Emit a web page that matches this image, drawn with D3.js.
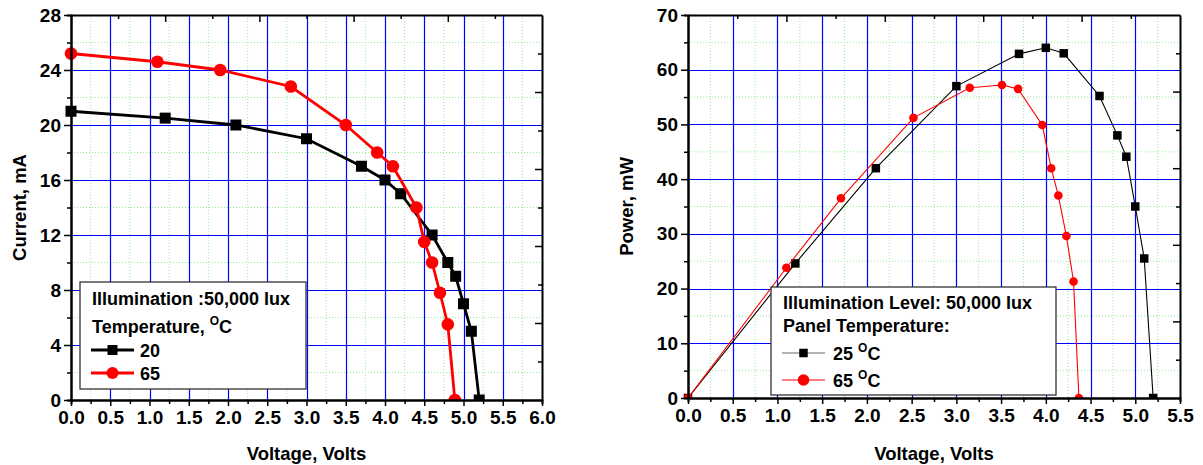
<!DOCTYPE html>
<html lang="en">
<head>
<meta charset="utf-8">
<title>Solar panel I-V and P-V</title>
<script src="https://cdn.jsdelivr.net/npm/d3@7"></script>
<style>
  body { margin: 0; background: #fff; }
  svg text { font-family: "Liberation Sans", Arial, sans-serif; font-weight: bold; fill: #000; }
  .axis path, .axis line { stroke: #000; }
  .axis path { stroke-width: 2; }
  .axis line { stroke-width: 1.5; }
  .axis text { font-size: 19px; }
  .major { stroke: #0000ff; stroke-width: 1.2; }
  .minor { stroke: #8ef08e; stroke-width: 1; stroke-dasharray: 1 2; }
</style>
</head>
<body>
<div id="chart"></div>
<script>
// current vs voltage (left)
var ivVolts20 = [0.0, 1.2, 2.1, 3.0, 3.7, 4.0, 4.2, 4.6, 4.8, 4.9, 5.0, 5.1, 5.2];
var ivAmps20  = [21, 20.5, 20, 19, 17, 16, 15, 12, 10, 9, 7, 5, 0];
var ivVolts65 = [0.0, 1.1, 1.9, 2.8, 3.5, 3.9, 4.1, 4.4, 4.5, 4.6, 4.7, 4.8, 4.89];
var ivAmps65  = [25.2, 24.6, 24, 22.8, 20, 18, 17, 14, 11.5, 10, 7.8, 5.5, 0];

// power vs voltage (right)
var pvVolts25 = [0.0, 1.2, 2.1, 3.0, 3.7, 4.0, 4.2, 4.6, 4.8, 4.9, 5.0, 5.1, 5.2];
var pvWatts25 = [0, 24.6, 42, 57, 62.9, 64, 63, 55.2, 48, 44.1, 35, 25.5, 0];
var pvVolts65 = [0.0, 1.1, 1.71, 2.52, 3.15, 3.51, 3.69, 3.96, 4.06, 4.14, 4.23, 4.31, 4.37];
var pvWatts65 = [0, 23.8, 36.5, 51.2, 56.7, 57.2, 56.5, 49.9, 42, 37, 29.6, 21.3, 0];

var xTicksLeft = d3.range(0, 6.01, 0.5);
var xTicksRight = d3.range(0, 5.51, 0.5);
var yTicksLeft = [0, 4, 8, 12, 16, 20, 24, 28];
var yTicksRight = [0, 10, 20, 30, 40, 50, 60, 70];

var svg = d3.select('#chart').append('svg')
  .attr('width', 1203).attr('height', 465)
  .style('background', '#fff');

function zip(xs, ys) { return xs.map(function (x, i) { return [x, ys[i]]; }); }

function panel(o) {
  var w = o.right - o.left, h = o.bottom - o.top;
  var x = d3.scaleLinear().domain(o.xDomain).range([0, w]);
  var y = d3.scaleLinear().domain(o.yDomain).range([h, 0]);
  var g = svg.append('g').attr('transform', 'translate(' + o.left + ',' + o.top + ')');

  // grid
  var xMinor = d3.range(o.xDomain[0] + 0.25, o.xDomain[1], 0.5);
  var yMinor = d3.range(o.yDomain[0] + o.yStep / 2, o.yDomain[1], o.yStep);
  g.selectAll('.gxm').data(xMinor).enter().append('line').attr('class', 'minor')
    .attr('x1', d => x(d)).attr('x2', d => x(d)).attr('y1', 0).attr('y2', h);
  g.selectAll('.gym').data(yMinor).enter().append('line').attr('class', 'minor')
    .attr('y1', d => y(d)).attr('y2', d => y(d)).attr('x1', 0).attr('x2', w);
  g.selectAll('.gxM').data(o.xTicks.slice(1, -1)).enter().append('line').attr('class', 'major')
    .attr('x1', d => Math.round(x(d)) + 0.5).attr('x2', d => Math.round(x(d)) + 0.5).attr('y1', 0).attr('y2', h);
  g.selectAll('.gyM').data(o.yTicks.slice(1, -1)).enter().append('line').attr('class', 'major')
    .attr('y1', d => Math.round(y(d)) + 0.5).attr('y2', d => Math.round(y(d)) + 0.5).attr('x1', 0).attr('x2', w);

  // series
  var clipId = 'clip' + o.left;
  g.append('clipPath').attr('id', clipId).append('rect')
    .attr('x', -12).attr('y', -12).attr('width', w + 24).attr('height', h + 12);
  var data = g.append('g').attr('clip-path', 'url(#' + clipId + ')');
  var line = d3.line().x(d => x(d[0])).y(d => y(d[1]));
  o.series.forEach(function (s) {
    var pts = zip(s.xs, s.ys);
    data.append('path').datum(pts).attr('d', line)
      .attr('fill', 'none').attr('stroke', s.color).attr('stroke-width', o.lineW);
    if (s.shape === 'square') {
      data.selectAll(null).data(pts).enter().append('rect')
        .attr('x', d => x(d[0]) - o.sq / 2).attr('y', d => y(d[1]) - o.sq / 2)
        .attr('width', o.sq).attr('height', o.sq).attr('fill', s.color);
    } else {
      data.selectAll(null).data(pts).enter().append('circle')
        .attr('cx', d => x(d[0])).attr('cy', d => y(d[1])).attr('r', o.r).attr('fill', s.color);
    }
  });

  // axes
  g.append('g').attr('class', 'axis').attr('transform', 'translate(0,' + h + ')')
    .call(d3.axisBottom(x).tickValues(xMinor).tickSize(4).tickFormat(''));
  g.append('g').attr('class', 'axis').attr('transform', 'translate(0,' + h + ')')
    .call(d3.axisBottom(x).tickValues(o.xTicks).tickSize(6).tickSizeOuter(0).tickPadding(5).tickFormat(d3.format('.1f')));
  g.append('g').attr('class', 'axis')
    .call(d3.axisLeft(y).tickValues(yMinor).tickSize(4).tickFormat(''));
  g.append('g').attr('class', 'axis')
    .call(d3.axisLeft(y).tickValues(o.yTicks).tickSize(7).tickSizeOuter(0).tickPadding(3).tickFormat(d3.format('d')));

  // top and right frame, ten inward ticks each
  var tx = d3.scaleLinear().domain([0, 10]).range([0, w]);
  var ty = d3.scaleLinear().domain([0, 10]).range([h, 0]);
  g.append('g').attr('class', 'axis')
    .call(d3.axisTop(tx).tickValues(d3.range(1, 10)).tickSizeInner(-5).tickSizeOuter(0).tickFormat(''))
    .selectAll('.tick line').attr('y2', (d) => d % 2 ? 4 : 7);
  g.append('g').attr('class', 'axis').attr('transform', 'translate(' + w + ',0)')
    .call(d3.axisRight(ty).tickValues(d3.range(1, 10)).tickSizeInner(-5).tickSizeOuter(0).tickFormat(''))
    .selectAll('.tick line').attr('x2', (d) => d % 2 ? -4 : -7);

  // titles
  g.append('text').attr('x', w / 2).attr('y', h + o.xTitleDy).attr('text-anchor', 'middle')
    .style('font-size', '18.5px').text('Voltage, Volts');
  g.append('text').attr('transform', 'translate(' + o.yTitleX + ',' + h / 2 + ') rotate(-90)')
    .attr('text-anchor', 'middle').style('font-size', '18.5px').text(o.yTitle);

  // legend
  var L = o.legend;
  var lg = svg.append('g');
  lg.append('rect').attr('x', L.x).attr('y', L.y).attr('width', L.w).attr('height', L.h)
    .attr('fill', '#fff').attr('stroke', '#333').attr('stroke-width', 1.3);
  L.head.forEach(function (t, i) {
    var tx0 = lg.append('text').attr('x', L.x + 12).attr('y', L.headY[i]).style('font-size', '18px');
    tx0.append('tspan').text(t.a);
    if (t.sup) {
      tx0.append('tspan').attr('dy', -8).style('font-size', '12px').text('O');
      tx0.append('tspan').attr('dy', 8).text('C');
    }
  });
  o.series.forEach(function (s, i) {
    var cy = L.itemY[i];
    lg.append('line').attr('x1', L.x + 11).attr('x2', L.x + 11 + L.lineLen)
      .attr('y1', cy).attr('y2', cy).attr('stroke', s.legendStroke || s.color).attr('stroke-width', o.lineW);
    var cx = L.x + 11 + L.lineLen / 2;
    if (s.shape === 'square') {
      lg.append('rect').attr('x', cx - L.sq / 2).attr('y', cy - L.sq / 2)
        .attr('width', L.sq).attr('height', L.sq).attr('fill', s.color);
    } else {
      lg.append('circle').attr('cx', cx).attr('cy', cy).attr('r', L.r).attr('fill', s.color);
    }
    var t = lg.append('text').attr('x', L.x + 11 + L.lineLen + L.gap).attr('y', cy + 7).style('font-size', '18px');
    t.append('tspan').text(s.label);
    if (s.sup) {
      t.append('tspan').text(' ');
      t.append('tspan').attr('dy', -8).style('font-size', '12px').text('O');
      t.append('tspan').attr('dy', 8).text('C');
    }
  });
}

panel({
  left: 71, right: 542, top: 15, bottom: 400,
  xDomain: [0, 6], yDomain: [0, 28], yStep: 4,
  xTicks: xTicksLeft, yTicks: yTicksLeft,
  lineW: 2.8, sq: 11, r: 6.3,
  xTitleDy: 60, yTitleX: -45, yTitle: 'Current, mA',
  series: [
    { xs: ivVolts20, ys: ivAmps20, color: '#000', shape: 'square', label: '20' },
    { xs: ivVolts65, ys: ivAmps65, color: '#ff0000', shape: 'circle', label: '65' }
  ],
  legend: {
    x: 80, y: 282, w: 226, h: 107, lineLen: 43, gap: 6, sq: 10, r: 6,
    head: [{ a: 'Illumination :50,000 lux' }, { a: 'Temperature, ', sup: true }],
    headY: [305, 333], itemY: [350, 373]
  }
});

panel({
  left: 688, right: 1180, top: 15, bottom: 398,
  xDomain: [0, 5.5], yDomain: [0, 70], yStep: 10,
  xTicks: xTicksRight, yTicks: yTicksRight,
  lineW: 1.1, sq: 8.5, r: 4.3,
  xTitleDy: 62, yTitleX: -55, yTitle: 'Power, mW',
  series: [
    { xs: pvVolts25, ys: pvWatts25, color: '#000', legendStroke: '#666', shape: 'square', label: '25', sup: true },
    { xs: pvVolts65, ys: pvWatts65, color: '#ff0000', shape: 'circle', label: '65', sup: true }
  ],
  legend: {
    x: 771, y: 287, w: 285, h: 108, lineLen: 43, gap: 8, sq: 8.5, r: 5.8,
    head: [{ a: 'Illumination Level: 50,000 lux' }, { a: 'Panel Temperature:' }],
    headY: [309, 332], itemY: [353, 380]
  }
});
</script>
</body>
</html>
